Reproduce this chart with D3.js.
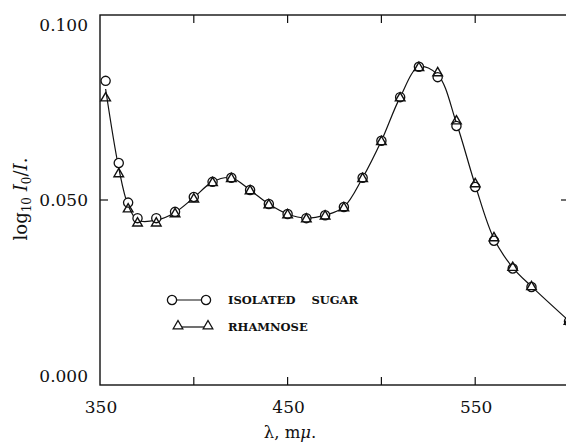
<!DOCTYPE html>
<html>
<head>
<meta charset="utf-8">
<script src="https://cdn.jsdelivr.net/npm/d3@7"></script>
<style>
  body { margin: 0; background: #fff; }
  svg { display: block; }
  text { font-family: "DejaVu Serif", serif; fill: #111; }
</style>
</head>
<body>
<svg id="viz" width="566" height="442"></svg>
<script>
// wavelength (m\u03bc) and log10 I0/I readings
var wavelengths = [353, 360, 365, 370, 380, 390, 400, 410, 420, 430, 440, 450, 460, 470, 480, 490, 500, 510, 520, 530, 540, 550, 560, 570, 580, 600]
var isolatedSugar = [0.0822, 0.0600, 0.0493, 0.0451, 0.0451, 0.0468, 0.0508, 0.0549, 0.0560, 0.0527, 0.0489, 0.0462, 0.0451, 0.0459, 0.0481, 0.0560, 0.0660, 0.0778, 0.0860, 0.0832, 0.0700, 0.0535, 0.0390, 0.0315, 0.0265, 0.0172]
var rhamnose = [0.0778, 0.0573, 0.0478, 0.0440, 0.0440, 0.0465, 0.0505, 0.0549, 0.0560, 0.0527, 0.0489, 0.0462, 0.0451, 0.0459, 0.0481, 0.0560, 0.0660, 0.0778, 0.0860, 0.0846, 0.0716, 0.0546, 0.0400, 0.0320, 0.0268, 0.0174]
var xTicks = [350, 450, 550]
var xMinor = [400, 500]
var yTicks = [0, 0.05, 0.1]
var legendLabels = [["ISOLATED", "SUGAR"], ["RHAMNOSE"]]

var svg = d3.select("#viz")
var plotL = 100, plotR = 569, plotT = 15, plotB = 385

var x = d3.scaleLinear().domain([350, 600]).range([plotL, plotR])
var y = d3.scaleLinear().domain([0, 0.1]).range([plotB, plotT])

// frame
svg.append("rect")
  .attr("x", plotL).attr("y", plotT)
  .attr("width", plotR - plotL).attr("height", plotB - plotT)
  .attr("fill", "none").attr("stroke", "#111").attr("stroke-width", 1.4)

// ticks on all sides (inward)
var tickLen = 8
xTicks.concat(xMinor).forEach(function(t){
  if (t == 350) return
  svg.append("line").attr("x1", x(t)).attr("x2", x(t)).attr("y1", plotB).attr("y2", plotB - tickLen)
    .attr("stroke", "#111").attr("stroke-width", 1.2)
  svg.append("line").attr("x1", x(t)).attr("x2", x(t)).attr("y1", plotT).attr("y2", plotT + tickLen)
    .attr("stroke", "#111").attr("stroke-width", 1.2)
})
svg.append("line").attr("x1", plotL).attr("x2", plotL + tickLen).attr("y1", y(0.05)).attr("y2", y(0.05))
  .attr("stroke", "#111").attr("stroke-width", 1.2)
svg.append("line").attr("x1", plotR).attr("x2", plotR - tickLen).attr("y1", y(0.05)).attr("y2", y(0.05))
  .attr("stroke", "#111").attr("stroke-width", 1.2)

// tick labels
svg.selectAll(".ylab").data(yTicks).enter().append("text")
  .attr("class", "ylab")
  .attr("x", 88)
  .attr("y", function(d){ return y(d) })
  .attr("dy", function(d){ return d == 0.1 ? "0.95em" : d == 0 ? "-0.2em" : "0.38em" })
  .attr("text-anchor", "end")
  .style("font-size", "17px")
  .text(d3.format(".3f"))

svg.selectAll(".xlab").data(xTicks).enter().append("text")
  .attr("class", "xlab")
  .attr("x", function(d){ return x(d) + 1 })
  .attr("y", 413)
  .attr("text-anchor", "middle")
  .style("font-size", "17px")
  .text(function(d){ return d })

// axis titles
var xt = svg.append("text").attr("x", 290).attr("y", 438).attr("text-anchor", "middle").style("font-size", "16.5px")
xt.append("tspan").text("\u03bb, m")
xt.append("tspan").style("font-style", "italic").text("\u03bc")
xt.append("tspan").text(".")

var yt = svg.append("text").attr("transform", "translate(27,199) rotate(-90)")
  .attr("text-anchor", "middle").style("font-size", "18px")
yt.append("tspan").text("log")
yt.append("tspan").attr("dy", 4).style("font-size", "12px").text("10")
yt.append("tspan").attr("dy", -4).text(" ")
yt.append("tspan").style("font-style", "italic").text("I")
yt.append("tspan").attr("dy", 4).style("font-size", "12px").text("0")
yt.append("tspan").attr("dy", -4).text("/")
yt.append("tspan").style("font-style", "italic").text("I")
yt.append("tspan").text(".")

// curve through the two series
var mean = wavelengths.map(function(w, i){ return [w, (isolatedSugar[i] + rhamnose[i]) / 2] })
var line = d3.line().x(function(d){ return x(d[0]) }).y(function(d){ return y(d[1]) }).curve(d3.curveCatmullRom)

svg.append("path").datum(mean)
  .attr("d", line)
  .attr("fill", "none").attr("stroke", "#111").attr("stroke-width", 1.2)

var circ = d3.symbol().type(d3.symbolCircle).size(Math.PI * 4.6 * 4.6)
var tri = d3.symbol().type(d3.symbolTriangle).size(40)

svg.selectAll(".sugar").data(wavelengths).enter().append("path")
  .attr("class", "sugar")
  .attr("d", circ)
  .attr("transform", function(d, i){ return "translate(" + x(d) + "," + y(isolatedSugar[i]) + ")" })
  .attr("fill", "#fff").attr("stroke", "#111").attr("stroke-width", 1.3)

svg.selectAll(".rham").data(wavelengths).enter().append("path")
  .attr("class", "rham")
  .attr("d", tri)
  .attr("transform", function(d, i){ return "translate(" + x(d) + "," + (y(rhamnose[i]) + 1) + ")" })
  .attr("fill", "none").attr("stroke", "#111").attr("stroke-width", 1.4)

// legend
var lg = svg.append("g")
lg.append("line").attr("x1", 172).attr("x2", 206).attr("y1", 300).attr("y2", 300).attr("stroke", "#111").attr("stroke-width", 1.2)
lg.append("path").attr("d", circ).attr("transform", "translate(172,300)").attr("fill", "#fff").attr("stroke", "#111").attr("stroke-width", 1.3)
lg.append("path").attr("d", circ).attr("transform", "translate(206,300)").attr("fill", "#fff").attr("stroke", "#111").attr("stroke-width", 1.3)
lg.append("line").attr("x1", 178).attr("x2", 208).attr("y1", 327).attr("y2", 327).attr("stroke", "#111").attr("stroke-width", 1.2)
lg.append("path").attr("d", tri).attr("transform", "translate(178,326)").attr("fill", "#fff").attr("stroke", "#111").attr("stroke-width", 1.3)
lg.append("path").attr("d", tri).attr("transform", "translate(208,326)").attr("fill", "#fff").attr("stroke", "#111").attr("stroke-width", 1.3)

lg.selectAll(".leg").data(legendLabels).enter().append("text")
  .attr("class", "leg")
  .attr("x", 228)
  .attr("y", function(d, i){ return 304 + i * 27 })
  .style("font-size", "11.5px").style("font-weight", "bold")
  .each(function(words){
    var t = d3.select(this)
    words.forEach(function(w, j){
      t.append("tspan").attr("dx", j ? 12 : 0).text((j ? " " : "") + w)
    })
  })
</script>
</body>
</html>
